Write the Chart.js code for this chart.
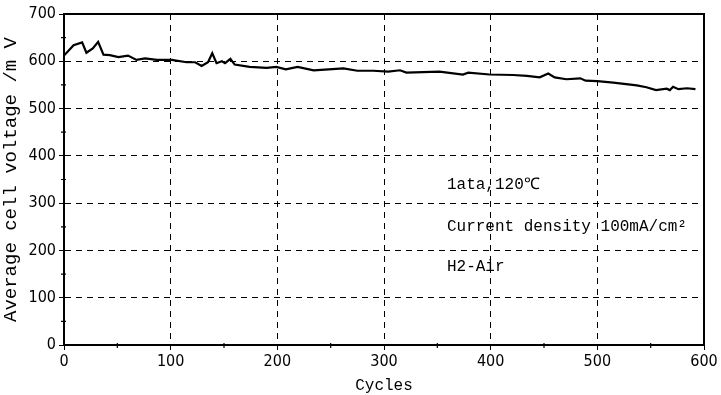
<!DOCTYPE html>
<html>
<head>
<meta charset="utf-8">
<script src="https://cdn.jsdelivr.net/npm/chart.js@4.4.0/dist/chart.umd.min.js"></script>
<style>
  html, body { margin: 0; padding: 0; background: #fff; }
  #wrap { width: 721px; height: 395px; }
</style>
</head>
<body>
<div id="wrap"><canvas id="grafica"></canvas></div>
<script>
// datos
const ciclos = [0, 9, 17, 21, 27, 32, 37, 43, 51, 60, 68, 76, 87, 101, 115, 123, 129, 135, 139, 143,
  148, 151, 156, 160, 174, 190, 199, 208, 219, 234, 262, 275, 290, 304, 315, 321, 352, 374, 379, 399,
  421, 434, 446, 454, 460, 471, 484, 489, 500, 515, 537, 546, 555, 565, 568, 571, 576, 584, 592];
const voltaje = [612, 634, 640, 618, 627, 641, 614, 613, 609, 612, 603, 606, 603, 603, 598, 598, 590, 598, 617, 596,
  600, 596, 605, 593, 588, 586, 588, 583, 588, 581, 585, 580, 580, 578, 581, 576, 578, 572, 576, 572,
  571, 569, 566, 574, 566, 562, 564, 559, 558, 555, 549, 545, 539, 542, 539, 546, 541, 543, 541];

const ticksX = [0, 100, 200, 300, 400, 500, 600];
const ticksY = [0, 100, 200, 300, 400, 500, 600, 700];

const notas = ['1ata,120℃', 'Current density 100mA/cm²', 'H2-Air'];
const notasX = [359, 359, 359];
const notasY = [338, 250, 165];

const monoFont = "'Liberation Mono', 'DejaVu Sans Mono', monospace";
const narrowFont = "'Liberation Sans Narrow', 'DejaVu Sans Condensed', sans-serif";

// marco, ticks menores y notas
const extras = {
  id: 'extras',
  afterDatasetsDraw(chart) {
    const { ctx, chartArea: a, scales: { x, y } } = chart;
    ctx.save();
    ctx.strokeStyle = '#000';
    ctx.lineWidth = 2;
    ctx.strokeRect(a.left, a.top, a.right - a.left, a.bottom - a.top);

    ctx.lineWidth = 1.2;
    ctx.beginPath();
    for (let v = 50; v < 700; v += 100) {
      const py = y.getPixelForValue(v);
      ctx.moveTo(a.left - 3, py);
      ctx.lineTo(a.left + 2, py);
    }
    for (let c = 50; c < 600; c += 100) {
      const px = x.getPixelForValue(c);
      ctx.moveTo(px, a.bottom + 3);
      ctx.lineTo(px, a.bottom - 2);
    }
    ctx.stroke();

    ctx.fillStyle = '#000';
    ctx.font = '16px ' + monoFont;
    ctx.textBaseline = 'middle';
    notas.forEach((t, i) => {
      ctx.fillText(t, x.getPixelForValue(notasX[i]), y.getPixelForValue(notasY[i]));
    });
    ctx.restore();
  }
};

new Chart(document.getElementById('grafica'), {
  type: 'scatter',
  data: {
    datasets: [{
      data: ciclos.map((c, i) => ({ x: c, y: voltaje[i] })),
      showLine: true,
      borderColor: '#000',
      borderWidth: 2.2,
      pointRadius: 0,
      tension: 0
    }]
  },
  options: {
    responsive: true,
    maintainAspectRatio: false,
    animation: false,
    layout: { padding: { top: 14, right: 17, left: 0, bottom: 0 } },
    plugins: {
      legend: { display: false },
      tooltip: { enabled: false }
    },
    scales: {
      x: {
        type: 'linear',
        min: 0,
        max: 600,
        afterBuildTicks: s => { s.ticks = ticksX.map(v => ({ value: v })); },
        afterFit: s => { s.height = 50; },
        ticks: { color: '#000', font: { family: narrowFont, size: 16 }, padding: 2, maxRotation: 0 },
        grid: { color: '#000', lineWidth: 1, tickLength: 5, tickColor: '#000', drawTicks: true },
        border: { color: '#000', width: 2, dash: [6, 5] },
        title: { display: true, text: 'Cycles', color: '#000', font: { family: monoFont, size: 16 }, padding: { top: 0, bottom: 0 } }
      },
      y: {
        min: 0,
        max: 700,
        afterBuildTicks: s => { s.ticks = ticksY.map(v => ({ value: v })); },
        afterFit: s => { s.width = 64; },
        ticks: { color: '#000', font: { family: narrowFont, size: 16 }, padding: 3 },
        grid: { color: '#000', lineWidth: 1, tickLength: 5, tickColor: '#000' },
        border: { color: '#000', width: 2, dash: [6, 5] },
        title: { display: true, text: 'Average cell voltage /m V', color: '#000', font: { family: monoFont, size: 19 }, padding: { top: 0, bottom: 1 } }
      }
    }
  },
  plugins: [extras]
});
</script>
</body>
</html>
